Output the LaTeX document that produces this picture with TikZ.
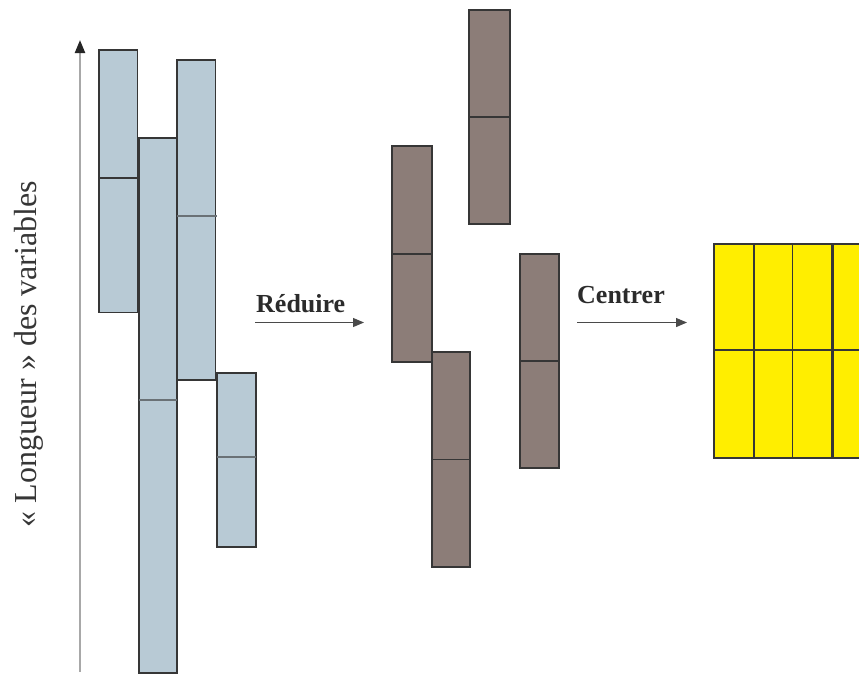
\documentclass[tikz,border=0pt]{standalone}
\usepackage{fontspec}
\setmainfont{Liberation Serif}
\usetikzlibrary{arrows.meta}

\definecolor{bleugris}{HTML}{B8CAD5}
\definecolor{brun}{HTML}{8C7D78}
\definecolor{jaune}{HTML}{FFEE00}
\definecolor{trait}{HTML}{363636}
\definecolor{axe}{HTML}{A8A8A8}

\begin{document}
\begin{tikzpicture}[x=1pt, y=-1pt,
                    barre/.style={draw=trait, line width=1.9pt},
                    coupe/.style={draw=trait, line width=1.7pt},
                    coupeclaire/.style={draw=trait!60!bleugris, line width=1.7pt},
                    fleche/.style={draw=trait!90, line width=1.2pt, -{Triangle[length=11pt,width=9pt]}},
                    titre/.style={font=\fontsize{26}{30}\selectfont\bfseries, text=trait!80!black, inner sep=0pt}]

\useasboundingbox (0,0) rectangle (859,675);
\clip (0,0) rectangle (859,675);

% axe vertical
\coordinate (axe0) at (80,672);
\coordinate (axe1) at (80,40);
\draw[axe, line width=2.2pt, -{Triangle[length=13pt,width=10pt,color=black!85]}] (axe0) -- (axe1);
\node[rotate=90, anchor=base, inner sep=0pt, text=trait,
      font=\fontsize{32}{36}\selectfont] (longueur) at (36,354)
      {«~Longueur~» des variables};

% variables brutes
\foreach \xa/\xb/\ya/\yb/\ym in {99/137.5/50/312.5/178, 139.3/176.8/138/673/400,
                                 177.3/215.5/60/380/216, 217/255.7/373/546.7/457}
  {\filldraw[barre, fill=bleugris] (\xa,\ya) rectangle (\xb,\yb);}
\draw[coupe] (99,178) -- (137.5,178);
\draw[coupeclaire] (139.3,400) -- (176.8,400);
\draw[coupeclaire] (177.3,216) -- (217,216);
\draw[coupeclaire] (217,457) -- (255.7,457);

% variables reduites
\foreach \xa/\xb/\ya/\yb in {391.7/432.3/146/362, 469.3/510.3/10/224,
                             432/470/352/567, 520/559/254/468}
  {\filldraw[barre, fill=brun] (\xa,\ya) rectangle (\xb,\yb);
   \draw[coupe] (\xa,{(\ya+\yb)/2}) -- (\xb,{(\ya+\yb)/2});}

% variables centrees reduites
\foreach \xa in {714,754.3,792.5,833}
  {\filldraw[barre, fill=jaune] (\xa,244) rectangle ++(39.5,214);}
\draw[coupe] (714,350) -- (872,350);

% etapes
\coordinate (r0) at (255,322.5);
\coordinate (r1) at (364,322.5);
\draw[fleche] (r0) -- (r1);
\node[titre, anchor=base west] (reduire) at (256,312.5) {Réduire};

\coordinate (c0) at (577,322.5);
\coordinate (c1) at (687,322.5);
\draw[fleche] (c0) -- (c1);
\node[titre, anchor=base west] (centrer) at (577,303) {Centrer};
\end{tikzpicture}
\end{document}
